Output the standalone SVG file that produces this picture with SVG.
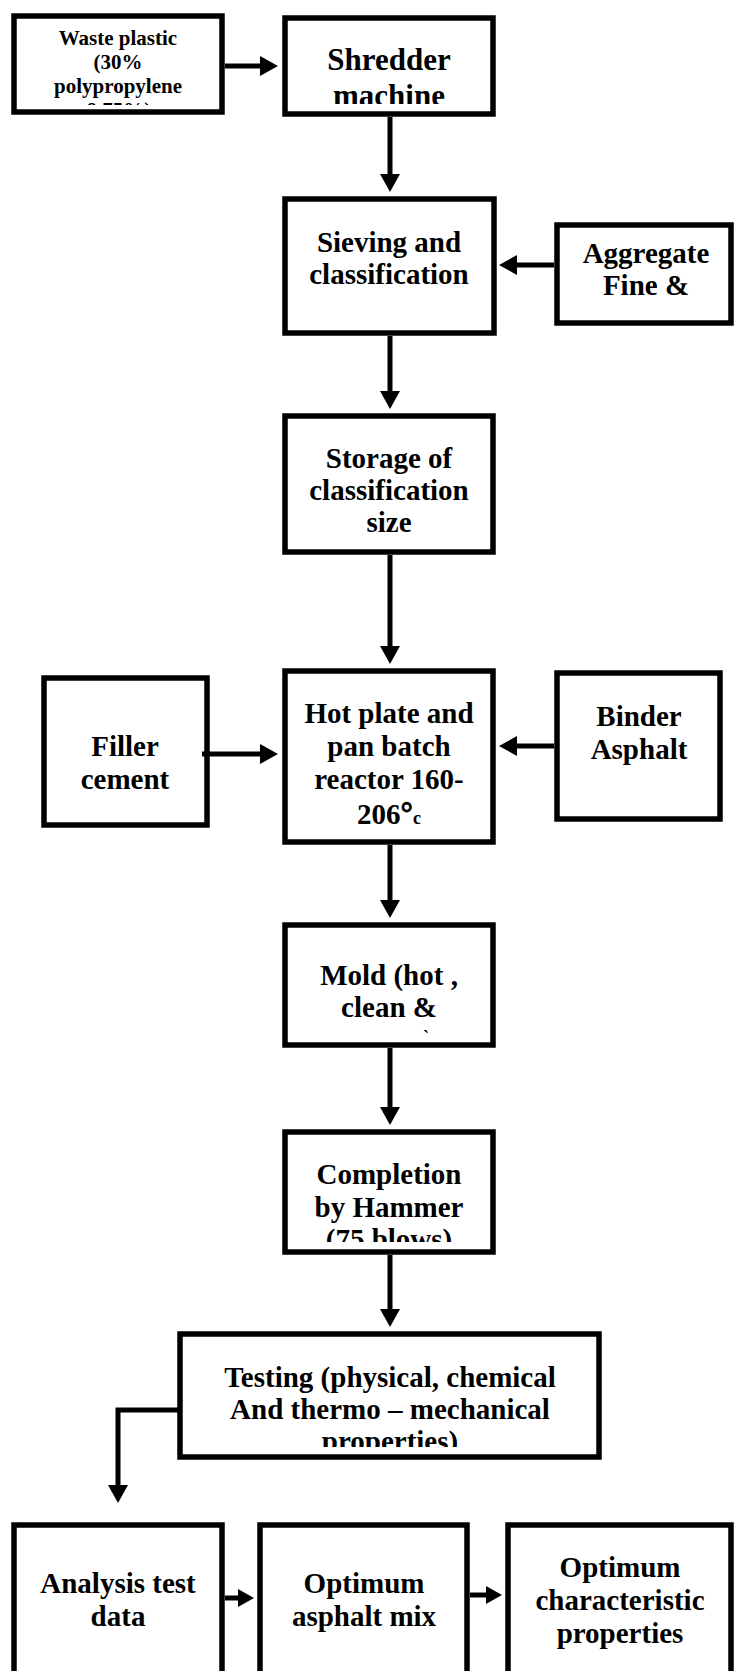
<svg xmlns="http://www.w3.org/2000/svg" width="734" height="1671" viewBox="0 0 734 1671">
<style>
.box{fill:#fff;stroke:#000;stroke-width:5.5}
.t{font-family:"Liberation Serif","Times New Roman",serif;font-weight:bold;font-size:29px;fill:#000;text-anchor:middle}
.c{fill:none;stroke:#000;stroke-width:5}
</style>
<defs>
<marker id="ah" markerUnits="userSpaceOnUse" markerWidth="20" markerHeight="22" refX="6" refY="10" orient="auto" overflow="visible">
<path d="M0,0 L18,10 L0,20 z" fill="#000"/>
</marker>
<marker id="ahs" markerUnits="userSpaceOnUse" markerWidth="18" markerHeight="20" refX="5" refY="9" orient="auto" overflow="visible">
<path d="M0,0 L16,9 L0,18 z" fill="#000"/>
</marker>
<clipPath id="cpWaste"><rect x="14" y="16" width="208" height="89"/></clipPath>
<clipPath id="cpShred"><rect x="285" y="18" width="208" height="86"/></clipPath>
<clipPath id="cpComp"><rect x="285" y="1132" width="208" height="110"/></clipPath>
<clipPath id="cpTest"><rect x="180" y="1334" width="419" height="113"/></clipPath>
</defs>
<rect width="734" height="1671" fill="#fff"/>

<g id="waste">
<rect class="box" x="14" y="16" width="208" height="96"/>
<g clip-path="url(#cpWaste)">
<text class="t" style="font-size:21px" x="118" y="45">Waste plastic</text>
<text class="t" style="font-size:21px" x="118" y="69">(30%</text>
<text class="t" style="font-size:21px" x="118" y="93">polypropylene</text>
<text class="t" style="font-size:21px" x="118" y="117">&amp;75%)</text>
</g>
</g>

<g id="shredder">
<rect class="box" x="285" y="18" width="208" height="96"/>
<g clip-path="url(#cpShred)">
<text class="t" style="font-size:31px" x="389" y="70">Shredder</text>
<text class="t" style="font-size:31px" x="389" y="106">machine</text>
</g>
</g>

<g id="sieving">
<rect class="box" x="285" y="199" width="209" height="134"/>
<text class="t" x="389" y="252">Sieving and</text>
<text class="t" x="389" y="284">classification</text>
</g>

<g id="aggregate">
<rect class="box" x="557" y="225" width="174" height="98"/>
<text class="t" x="646" y="263">Aggregate</text>
<text class="t" x="646" y="295">Fine &amp;</text>
</g>

<g id="storage">
<rect class="box" x="285" y="416" width="208" height="136"/>
<text class="t" x="389" y="468">Storage of</text>
<text class="t" x="389" y="500">classification</text>
<text class="t" x="389" y="532">size</text>
</g>

<g id="filler">
<rect class="box" x="44" y="678" width="163" height="147"/>
<text class="t" x="125" y="756">Filler</text>
<text class="t" x="125" y="789">cement</text>
</g>

<g id="hotplate">
<rect class="box" x="285" y="671" width="208" height="171"/>
<text class="t" x="389" y="723">Hot plate and</text>
<text class="t" x="389" y="756">pan batch</text>
<text class="t" x="389" y="789">reactor 160-</text>
<text class="t" x="389" y="824">206<tspan style="font-size:31px;stroke:#000;stroke-width:0.8">°</tspan><tspan style="font-size:18px">c</tspan></text>
</g>

<g id="binder">
<rect class="box" x="557" y="673" width="163" height="146"/>
<text class="t" x="639" y="726">Binder</text>
<text class="t" x="639" y="759">Asphalt</text>
</g>

<g id="mold">
<rect class="box" x="285" y="925" width="208" height="120"/>
<text class="t" x="389" y="985">Mold (hot ,</text>
<text class="t" x="389" y="1017">clean &amp;</text>
<text class="t" style="font-size:18px" x="426" y="1043">`</text>
</g>

<g id="completion">
<rect class="box" x="285" y="1132" width="208" height="120"/>
<g clip-path="url(#cpComp)">
<text class="t" x="389" y="1184">Completion</text>
<text class="t" x="389" y="1217">by Hammer</text>
<text class="t" x="389" y="1249">(75 blows)</text>
</g>
</g>

<g id="testing">
<rect class="box" x="180" y="1334" width="419" height="123"/>
<g clip-path="url(#cpTest)">
<text class="t" x="390" y="1387">Testing (physical, chemical</text>
<text class="t" x="390" y="1419">And thermo – mechanical</text>
<text class="t" x="390" y="1451">properties)</text>
</g>
</g>

<g id="analysis">
<rect class="box" x="14" y="1525" width="208" height="200"/>
<text class="t" x="118" y="1593">Analysis test</text>
<text class="t" x="118" y="1626">data</text>
</g>

<g id="optmix">
<rect class="box" x="260" y="1525" width="207" height="200"/>
<text class="t" x="364" y="1593">Optimum</text>
<text class="t" x="364" y="1626">asphalt mix</text>
</g>

<g id="optchar">
<rect class="box" x="508" y="1525" width="223" height="200"/>
<text class="t" x="620" y="1577">Optimum</text>
<text class="t" x="620" y="1610">characteristic</text>
<text class="t" x="620" y="1643">properties</text>
</g>

<g id="connectors">
<line class="c" x1="225" y1="66" x2="266" y2="66" marker-end="url(#ah)"/>
<line class="c" x1="390" y1="117" x2="390" y2="180" marker-end="url(#ah)"/>
<line class="c" x1="554" y1="265" x2="511" y2="265" marker-end="url(#ah)"/>
<line class="c" x1="390" y1="336" x2="390" y2="397" marker-end="url(#ah)"/>
<line class="c" x1="390" y1="555" x2="390" y2="652" marker-end="url(#ah)"/>
<line class="c" x1="202" y1="754" x2="266" y2="754" marker-end="url(#ah)"/>
<line class="c" x1="554" y1="746" x2="511" y2="746" marker-end="url(#ah)"/>
<line class="c" x1="390" y1="845" x2="390" y2="906" marker-end="url(#ah)"/>
<line class="c" x1="390" y1="1048" x2="390" y2="1113" marker-end="url(#ah)"/>
<line class="c" x1="390" y1="1255" x2="390" y2="1315" marker-end="url(#ah)"/>
<polyline class="c" points="180,1410 118,1410 118,1491" marker-end="url(#ah)"/>
<line class="c" x1="225" y1="1598" x2="243" y2="1598" marker-end="url(#ahs)"/>
<line class="c" x1="470" y1="1595" x2="491" y2="1595" marker-end="url(#ahs)"/>
</g>
</svg>
